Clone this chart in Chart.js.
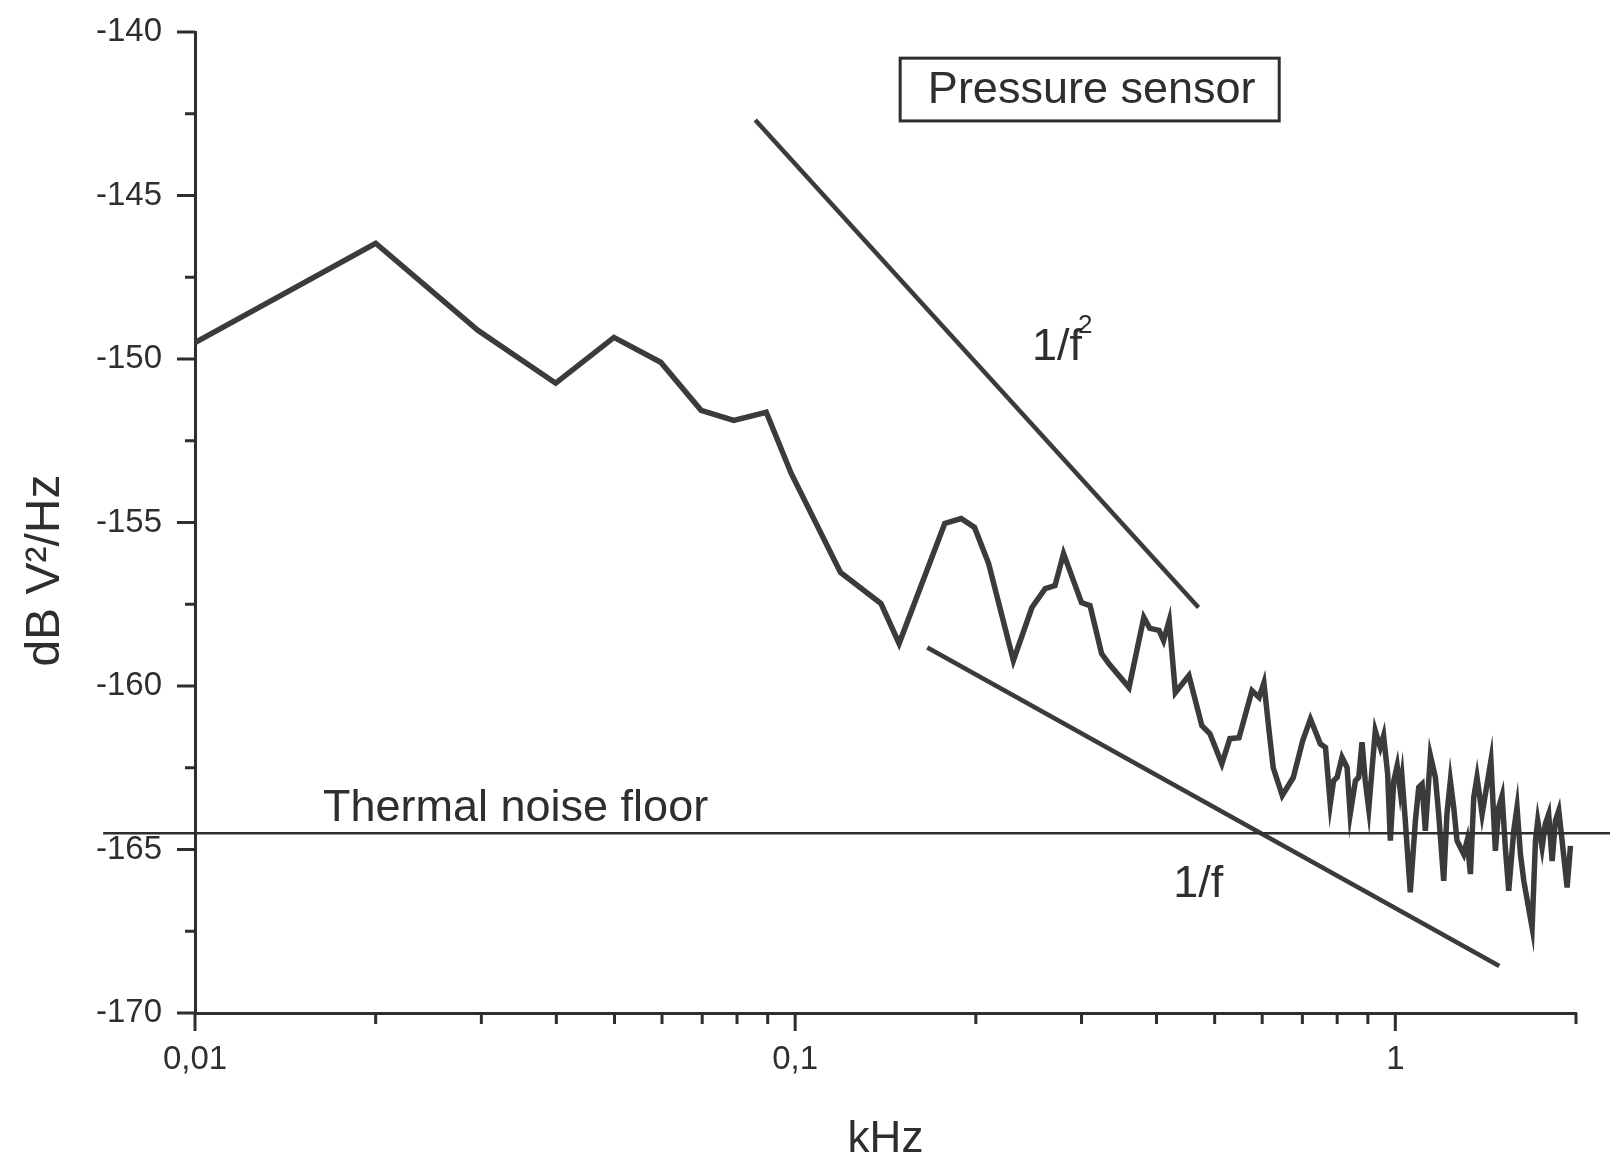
<!DOCTYPE html>
<html lang="en">
<head>
<meta charset="UTF-8">
<title>Pressure sensor noise spectrum</title>
<script src="https://cdn.jsdelivr.net/npm/chart.js"></script>
<style>
  body { margin: 0; background: #fff; }
  #wrap { width: 1610px; height: 1158px; position: relative; }
</style>
</head>
<body>
<div id="wrap"><canvas id="psdChart"></canvas></div>
<script>
// spectrum: frequency in kHz, level in dB V^2/Hz
const freqKHz = [0.01, 0.020, 0.0296, 0.0399, 0.0499, 0.0597, 0.0697, 0.079, 0.0895, 0.0985,
  0.119, 0.139, 0.149, 0.1775, 0.189, 0.199, 0.210, 0.231, 0.248, 0.261,
  0.271, 0.280, 0.300, 0.310, 0.324, 0.333, 0.360, 0.381, 0.390, 0.404,
  0.411, 0.420, 0.430, 0.453, 0.476, 0.491, 0.514, 0.530, 0.549, 0.577,
  0.593, 0.604, 0.616, 0.626, 0.648, 0.676, 0.701,
  0.722, 0.750, 0.765, 0.779, 0.789, 0.800, 0.815, 0.831, 0.841, 0.858,
  0.869, 0.880, 0.891, 0.903, 0.915, 0.926, 0.944, 0.956, 0.971, 0.981,
  0.994, 1.007, 1.019, 1.026, 1.039, 1.059, 1.080, 1.094, 1.108, 1.122,
  1.144, 1.166, 1.181, 1.204, 1.219, 1.235, 1.251, 1.267, 1.300, 1.317,
  1.334, 1.351, 1.368, 1.395, 1.413, 1.443, 1.468, 1.487, 1.506, 1.525,
  1.545, 1.575, 1.595, 1.616, 1.637, 1.690, 1.712, 1.727, 1.756, 1.778,
  1.801, 1.825, 1.848, 1.872, 1.896, 1.933, 1.958];
const psdDb = [-149.5, -146.46, -149.12, -150.74, -149.34, -150.10, -151.57, -151.88, -151.63, -153.5,
  -156.53, -157.48, -158.70, -155.03, -154.88, -155.15, -156.25, -159.22, -157.6, -157.02,
  -156.93, -155.95, -157.45, -157.54, -159.01, -159.31, -160.05, -157.9, -158.24, -158.3,
  -158.61, -158.0, -160.2, -159.68, -161.21, -161.46, -162.38, -161.61, -161.58, -160.14,
  -160.35, -159.9, -161.37, -162.5, -163.35, -162.8, -161.67,
  -161.01, -161.77, -161.88, -163.61, -162.90, -162.79, -162.18, -162.49, -163.92, -162.90,
  -162.79, -161.72, -162.90, -163.76, -162.49, -161.37, -161.88, -161.52, -162.69, -164.73,
  -162.90, -162.44, -163.20, -162.79, -164.12, -166.31, -164.12, -163.10, -163.0, -164.43,
  -162.13, -162.79, -163.92, -165.96, -163.92, -162.90, -163.71, -164.73, -165.14, -164.73,
  -165.75, -163.41, -162.79, -163.92, -163.30, -162.28, -165.04, -163.71, -163.36, -164.94,
  -166.26, -164.43, -163.71, -165.14, -165.96, -167.39, -164.73, -164.12, -164.94, -164.22,
  -163.92, -165.35, -164.12, -163.81, -164.73, -166.16, -164.89];

// slope guides
const slope2Freq = [0.0858, 0.470];
const slope2Db = [-142.69, -157.6];
const slope1Freq = [0.166, 1.49];
const slope1Db = [-158.82, -168.56];

// thermal noise floor, runs past both axes in the original
const floorFreq = [0.00703, 2.28];
const floorDb = [-164.5, -164.5];

// ticks
const xTickValues = [0.01, 0.02, 0.03, 0.04, 0.05, 0.06, 0.07, 0.08, 0.09,
  0.1, 0.2, 0.3, 0.4, 0.5, 0.6, 0.7, 0.8, 0.9, 1, 2];
const xMajorTicks = [0.01, 0.1, 1];
const xMajorLabels = ['0,01', '0,1', '1'];
const yTickValues = [-170, -167.5, -165, -162.5, -160, -157.5, -155, -152.5, -150, -147.5, -145, -142.5, -140];
const yMajorTicks = [-170, -165, -160, -155, -150, -145, -140];

const INK = '#2e2e2e';
const LINE = '#3b3b3b';
const FAMILY = 'Arial, "Liberation Sans", sans-serif';
Chart.defaults.font.family = FAMILY;
Chart.defaults.color = INK;

const pts = (xs, ys) => xs.map((v, i) => ({x: v, y: ys[i]}));
const majorIdx = (v, list) => list.findIndex(m => Math.abs(m - v) < 1e-9);
// keep label overflow from pushing the plot area around
const noOverflow = axis => {
  axis.paddingTop = 0; axis.paddingBottom = 0;
  axis.paddingLeft = 0; axis.paddingRight = 0;
};

const tickMarks = {
  id: 'tickMarks',
  afterDraw(chart) {
    const {ctx, scales: {x, y}} = chart;
    ctx.save();
    ctx.strokeStyle = INK;
    ctx.lineWidth = 3;
    ctx.beginPath();
    x.ticks.forEach((t, i) => {
      const px = x.getPixelForTick(i);
      const len = majorIdx(t.value, xMajorTicks) >= 0 ? 18 : 11;
      ctx.moveTo(px, x.top);
      ctx.lineTo(px, x.top + len);
    });
    y.ticks.forEach((t, i) => {
      const py = y.getPixelForTick(i);
      const len = majorIdx(t.value, yMajorTicks) >= 0 ? 18 : 10;
      ctx.moveTo(y.right, py);
      ctx.lineTo(y.right - len, py);
    });
    ctx.stroke();
    ctx.restore();
  }
};

const notes = {
  id: 'notes',
  afterDatasetsDraw(chart) {
    const {ctx, scales: {x, y}} = chart;
    ctx.save();
    ctx.fillStyle = INK;
    ctx.strokeStyle = INK;
    ctx.font = '45px ' + FAMILY;
    ctx.textBaseline = 'alphabetic';

    // boxed title
    const bx0 = x.getPixelForValue(0.1496), bx1 = x.getPixelForValue(0.6405);
    const by0 = y.getPixelForValue(-140.80), by1 = y.getPixelForValue(-142.72);
    ctx.lineWidth = 3;
    ctx.strokeRect(bx0, by0, bx1 - bx0, by1 - by0);
    ctx.textAlign = 'center';
    ctx.fillText('Pressure sensor', (bx0 + bx1) / 2 + 2, y.getPixelForValue(-142.17));

    ctx.textAlign = 'left';
    ctx.fillText('Thermal noise floor', x.getPixelForValue(0.01634), y.getPixelForValue(-164.12));
    ctx.fillText('1/f', x.getPixelForValue(0.4266), y.getPixelForValue(-166.45));

    const fx = x.getPixelForValue(0.248), fy = y.getPixelForValue(-150.04);
    ctx.fillText('1/f', fx, fy);
    const w = ctx.measureText('1/f').width;
    ctx.font = '26px ' + FAMILY;
    ctx.fillText('2', fx + w - 4, fy - 27);

    // y axis title
    ctx.font = '48px ' + FAMILY;
    ctx.translate(46, y.getPixelForValue(-156.47));
    ctx.rotate(-Math.PI / 2);
    ctx.textAlign = 'center';
    ctx.textBaseline = 'middle';
    ctx.fillText('dB V²/Hz', 0, 0);
    ctx.restore();
  }
};

new Chart(document.getElementById('psdChart'), {
  type: 'line',
  data: {
    datasets: [
      { data: pts(floorFreq, floorDb), borderColor: INK, borderWidth: 2.5, pointRadius: 0, clip: false },
      { data: pts(slope2Freq, slope2Db), borderColor: LINE, borderWidth: 4.5, pointRadius: 0 },
      { data: pts(slope1Freq, slope1Db), borderColor: LINE, borderWidth: 4.5, pointRadius: 0 },
      { data: pts(freqKHz, psdDb), borderColor: LINE, borderWidth: 5.5, pointRadius: 0, tension: 0 }
    ]
  },
  options: {
    responsive: true,
    maintainAspectRatio: false,
    animation: false,
    layout: { padding: { left: 0, right: 34, top: 32, bottom: 0 } },
    plugins: { legend: { display: false }, tooltip: { enabled: false } },
    scales: {
      x: {
        type: 'logarithmic',
        min: 0.01,
        max: 2,
        grid: { display: false },
        border: { display: true, color: INK, width: 3 },
        afterBuildTicks: axis => { axis.ticks = xTickValues.map(v => ({ value: v })); },
        afterFit: axis => { axis.height = 145; noOverflow(axis); },
        ticks: {
          autoSkip: false,
          maxRotation: 0,
          padding: 19,
          font: { size: 33 },
          color: INK,
          callback: v => { const k = majorIdx(v, xMajorTicks); return k >= 0 ? xMajorLabels[k] : ''; }
        },
        title: { display: true, text: 'kHz', color: INK, font: { size: 44, lineHeight: 0.82 }, padding: { top: 0, bottom: 0 } }
      },
      y: {
        min: -170,
        max: -140,
        grid: { display: false },
        border: { display: true, color: INK, width: 3 },
        afterBuildTicks: axis => { axis.ticks = yTickValues.map(v => ({ value: v })); },
        afterFit: axis => { axis.width = 195; noOverflow(axis); },
        ticks: {
          padding: 25,
          font: { size: 33 },
          color: INK,
          callback: v => majorIdx(v, yMajorTicks) >= 0 ? String(v) : ''
        }
      }
    }
  },
  plugins: [tickMarks, notes]
});
</script>
</body>
</html>
